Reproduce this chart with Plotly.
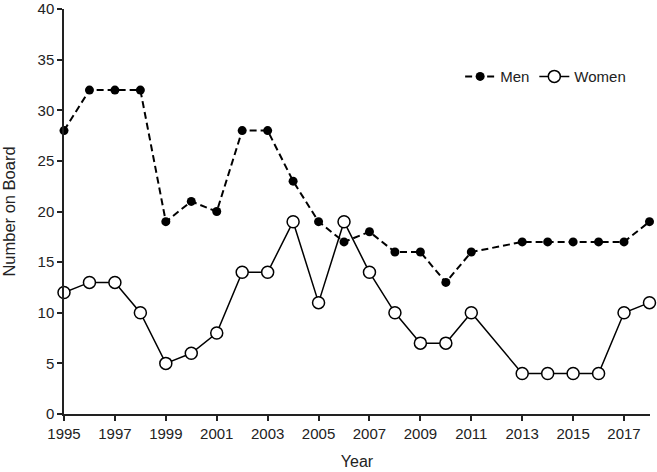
import plotly.graph_objects as go

years_men = [1995, 1996, 1997, 1998, 1999, 2000, 2001, 2002, 2003, 2004, 2005, 2006,
             2007, 2008, 2009, 2010, 2011, 2013, 2014, 2015, 2016, 2017, 2018]
men = [28, 32, 32, 32, 19, 21, 20, 28, 28, 23, 19, 17, 18, 16, 16, 13, 16, 17, 17, 17, 17, 17, 19]
years_women = years_men
women = [12, 13, 13, 10, 5, 6, 8, 14, 14, 19, 11, 19, 14, 10, 7, 7, 10, 4, 4, 4, 4, 10, 11]
x_ticks = list(range(1995, 2018, 2))
y_ticks = list(range(0, 41, 5))

fig = go.Figure()
fig.add_trace(go.Scatter(
    x=years_men, y=men, name="Men", mode="lines+markers",
    line=dict(color="black", width=2, dash="7px,4px"),
    marker=dict(color="black", size=9, symbol="circle"),
    cliponaxis=False,
))
fig.add_trace(go.Scatter(
    x=years_women, y=women, name="Women", mode="lines+markers",
    line=dict(color="black", width=1.5),
    marker=dict(color="white", size=12, symbol="circle", line=dict(color="black", width=1.5)),
    cliponaxis=False,
))

font = dict(family="Liberation Sans, Arial, sans-serif", size=15, color="#222")
fig.update_layout(
    width=657, height=472,
    margin=dict(l=64, r=7, t=9, b=58, autoexpand=False),
    paper_bgcolor="white", plot_bgcolor="white",
    font=font,
    showlegend=True,
    legend=dict(x=0.676, y=0.833, xanchor="left", yanchor="middle", orientation="h",
                font=dict(size=15), bgcolor="rgba(0,0,0,0)", itemwidth=30,
                tracegroupgap=0),
)
fig.update_xaxes(
    range=[1995, 2018.02], tickvals=x_ticks, ticktext=[str(t) for t in x_ticks],
    showgrid=False, zeroline=False, showline=True, linecolor="#222", linewidth=1.5,
    ticks="outside", ticklen=5, tickwidth=1.5, tickcolor="#222",
    ticklabeloverflow="allow", automargin=False,
    title=dict(text="Year", font=dict(size=16), standoff=15),
)
fig.update_yaxes(
    range=[0, 40.01], tickvals=y_ticks,
    showgrid=False, zeroline=False, showline=True, linecolor="#222", linewidth=1.5,
    ticks="outside", ticklen=5, tickwidth=1.5, tickcolor="#222",
    ticklabeloverflow="allow", automargin=False,
    title=dict(text="Number on Board", font=dict(size=16.5), standoff=19),
)
fig.write_html("out.html", config={"displayModeBar": False},
               post_script="document.body.style.margin='0';")
